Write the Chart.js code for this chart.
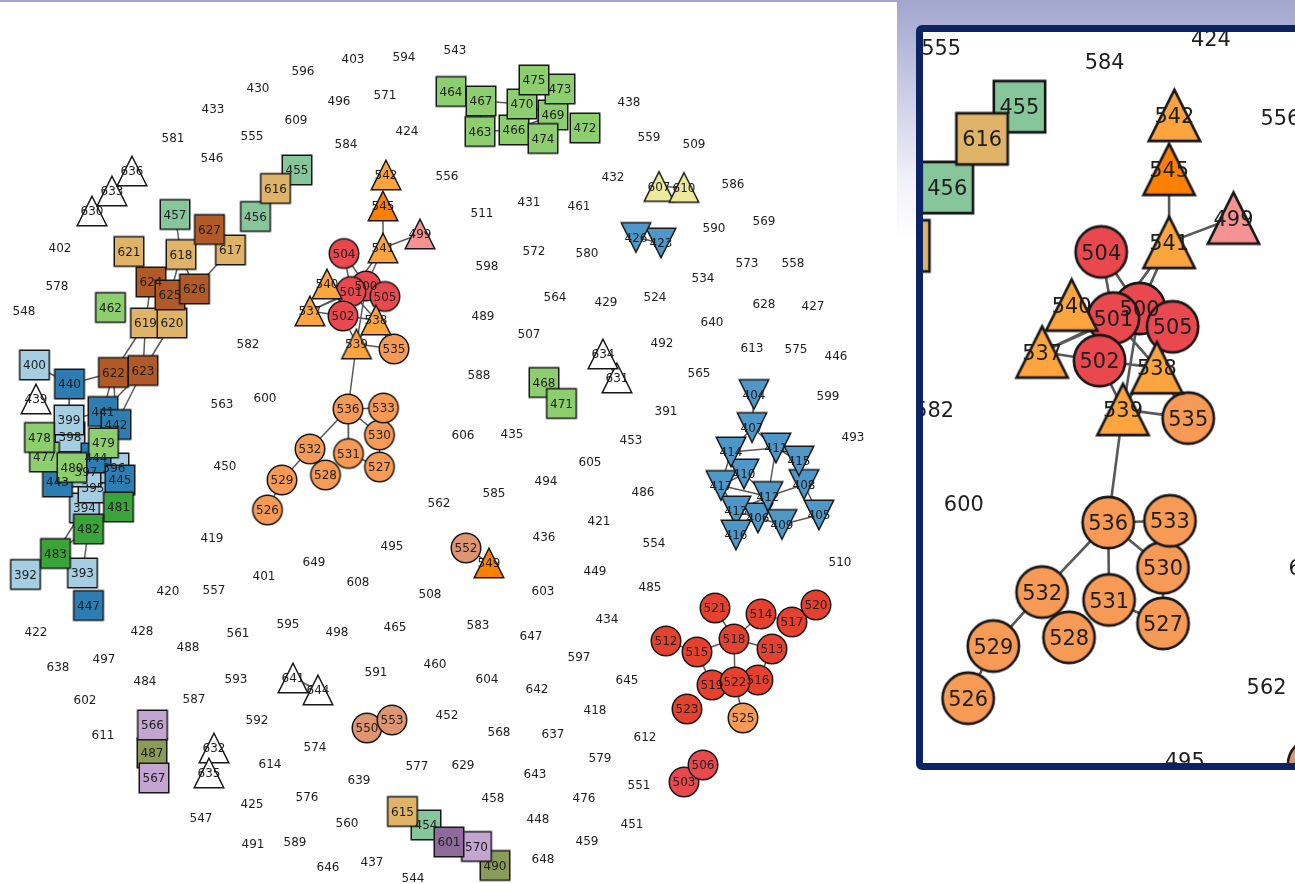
<!DOCTYPE html>
<html>
<head>
<meta charset="utf-8">
<title>Community graph</title>
<script src="https://cdn.jsdelivr.net/npm/chart.js@4.4.1/dist/chart.umd.min.js"></script>
<style>
  html, body { margin: 0; padding: 0; width: 1295px; height: 884px; overflow: hidden; }
  body {
    position: relative;
    background: linear-gradient(to bottom, #a2a5cd 0px, #b3b5d8 40px, #d3d4e9 110px, #f1f1f8 180px, #ffffff 240px);
    font-family: "DejaVu Sans", sans-serif;
  }
  #sheet { position: absolute; left: 0; top: 2px; width: 897px; height: 882px; background: #fff; }
  #overview { position: absolute; left: 0; top: 0; }
  #frame {
    position: absolute; left: 916px; top: 25px; width: 420px; height: 731px;
    border: 7px solid #0b2363; border-radius: 6px; background: #fff; overflow: hidden;
  }
  #detail { position: absolute; left: 0; top: 0; }
</style>
</head>
<body>
<div id="sheet"></div>
<canvas id="overview" width="897" height="884" style="width:897px;height:884px"></canvas>
<div id="frame"><canvas id="detail" width="400" height="731" style="width:400px;height:731px"></canvas></div>
<script>
// ---- node layout: [id, x, y] grouped by community ----
const unlinked = [
  [430,258,88],[433,213,109],[581,173,138],[555,252,136],[546,212,158],[596,303,71],[609,296,120],
  [403,353,59],[594,404,57],[543,455,50],[496,339,101],[571,385,95],[424,407,131],[584,346,144],
  [556,447,176],[511,482,213],[431,529,202],[461,579,206],[572,534,251],[580,587,253],[598,487,266],
  [564,555,297],[438,629,102],[559,649,137],[509,694,144],[432,613,177],[586,733,184],[590,714,228],
  [569,764,221],[573,747,263],[558,793,263],[534,703,278],[524,655,297],[429,606,302],[628,764,304],
  [427,813,306],[402,60,248],[578,57,286],[548,24,311],[582,248,344],[563,222,404],[600,265,398],
  [450,225,466],[419,212,538],[401,264,576],[420,168,591],[557,214,590],[489,483,316],[507,529,334],
  [588,479,375],[606,463,435],[435,512,434],[605,590,462],[494,546,481],[585,494,493],[562,439,503],
  [495,392,546],[436,544,537],[649,314,562],[608,358,582],[508,430,594],[603,543,591],[421,599,521],
  [449,595,571],[640,712,322],[492,662,343],[613,752,348],[575,796,349],[446,836,356],[565,699,373],
  [599,828,396],[391,666,411],[493,853,437],[453,631,440],[486,643,492],[554,654,543],[510,840,562],
  [485,650,587],[422,36,632],[428,142,631],[561,238,633],[595,288,624],[488,188,647],[638,58,667],
  [497,104,659],[484,145,681],[593,236,679],[602,85,700],[587,194,699],[592,257,720],[611,103,735],
  [614,270,764],[425,252,804],[547,201,818],[491,253,844],[589,295,842],[574,315,747],[576,307,797],
  [498,337,632],[465,395,627],[583,478,625],[647,531,636],[597,579,657],[434,607,619],[591,376,672],
  [460,435,664],[604,487,679],[642,537,689],[452,447,715],[568,499,732],[637,553,734],[418,595,710],
  [577,417,766],[629,463,765],[643,535,774],[579,600,758],[639,359,780],[458,493,798],[476,584,798],
  [560,347,823],[448,538,819],[459,587,841],[648,543,859],[646,328,867],[437,372,862],[544,413,878],
  [645,627,680],[612,645,737],[551,639,785],[451,632,824]
];
const whiteTri = [[636,132,171],[633,112,191],[630,92,211],[439,36,399],[634,603,354],[631,617,378],
  [641,293,678],[644,318,690],[632,214,748],[635,209,773]];
const amberTri = [[537,310,311],[538,376,320],[539,356.5,344],[540,327,284],[541,383,248],[542,386,175]];
const orangeTri = [[545,383,206],[549,489,563]];
const pinkTri = [[499,420,234]];
const yellowTri = [[607,659,186.5],[610,684,187.5]];
const blueDownTri = [[426,636,237.5],[423,661,243],[404,754,394.5],[407,752,427.5],[414,731,452],
  [411,776,448],[415,799,461],[410,744,474],[417,721,485.5],[408,804,484.5],[412,768,496.5],
  [413,736,511],[406,758,518],[409,782,524.5],[405,819,515],[416,736,535]];
const roseCircle = [[500,366,286],[501,351,291.5],[502,343,316],[504,344,253.5],[505,385,296.5],
  [503,684,782],[506,703,765]];
const redCircle = [[512,666,641],[513,772,649],[514,761,614],[515,697,652],[516,758,680],[517,792,622],
  [518,734,639],[519,712,685],[520,816,605],[521,715,608],[522,735,682],[523,687,709]];
const orangeCircle = [[526,267.5,510],[527,379.5,467],[528,325.5,475],[529,282,480],[530,379.5,435],
  [531,348.5,453.5],[532,310,449],[533,383.5,408],[535,394,349],[536,348,409],[525,743,718]];
const salmonCircle = [[552,466,548],[550,367,728],[553,392,720]];
const leafSquare = [[462,110.5,307.5],[463,480,131.5],[464,451,91.5],[466,514,130],[467,481,101],
  [469,553,115],[470,522,104],[472,585,128],[473,560,89],[474,543,138.5],[475,534,80],
  [468,544,382.5],[471,561.5,403.5],[477,44.5,457],[478,39.5,437.5],[479,103.5,443],[480,72,467.5]];
const greenSquare = [[481,118.5,507],[482,88.5,529],[483,55.5,553.5]];
const skySquare = [[392,25.5,574.5],[393,82.5,573],[394,84.5,508],[395,93,488],[396,114,468],
  [397,86,472],[398,70,437],[399,69,420],[400,34.5,365]];
const blueSquare = [[440,69.5,384],[441,103,411.5],[442,116,424.5],[443,57.5,482],[444,96,458],
  [445,120,480],[447,88.5,605.5]];
const mintSquare = [[454,426,825],[455,297,170],[456,255.5,216.5],[457,175,214.5]];
const tanSquare = [[615,402.5,811.5],[616,275.5,188.5],[617,230.5,250],[618,181,254.5],
  [619,145.5,323],[620,172,323],[621,129,251.5]];
const rustSquare = [[622,113.5,372.5],[623,143,370.5],[624,151,282],[625,170,295],[626,194.5,289],
  [627,209.5,229.5]];
const lilacSquare = [[566,152.5,725],[567,154,778],[570,476.5,846.5]];
const oliveSquare = [[487,152,753],[490,495,865.5]];
const plumSquare = [[601,449,842]];

// ---- links between nodes ----
const links = [
  [457,618],[618,624],[618,625],[618,626],[617,626],[627,617],[624,619],[626,620],
  [619,622],[619,623],[620,623],[622,440],[440,400],[622,441],[622,442],[623,441],[623,442],
  [440,399],[399,441],[441,444],[483,394],[483,482],[393,482],[394,482],[396,445],[443,397],
  [541,545],[541,499],[541,500],[541,501],[504,501],[504,500],[540,501],[540,505],[537,501],
  [537,502],[537,500],[502,538],[501,538],[500,539],[502,539],[505,538],[505,539],[539,535],
  [538,535],[539,536],[536,533],[536,532],[536,531],[536,530],[532,529],[529,526],[530,527],
  [531,527],[533,530],
  [467,470],[463,466],[466,469],[470,469],[475,473],[469,474],[470,475],[464,467],[463,467],
  [607,610],[426,423],[634,631],[641,644],[632,635],[630,633],[633,636],[468,471],
  [550,553],[552,549],[503,506],
  [404,407],[407,414],[407,411],[414,411],[411,415],[415,408],[414,417],[414,410],[410,417],
  [410,412],[417,412],[417,413],[413,412],[412,408],[412,406],[413,406],[406,409],[409,405],
  [408,405],[411,412],[413,416],
  [521,518],[514,518],[515,518],[518,513],[518,522],[515,519],[519,522],[522,516],[522,525],
  [512,515],[514,517],[517,520],[516,513],
  [566,487],[487,567],[615,454],[454,601],[601,570],[570,490]
];

// ---- appearance of each community ----
const communities = [
  { nodes: whiteTri,     shape: 'up',     fill: '#ffffff' },
  { nodes: amberTri,     shape: 'up',     fill: '#fca53e' },
  { nodes: orangeTri,    shape: 'up',     fill: '#ff7f00' },
  { nodes: pinkTri,      shape: 'up',     fill: '#f69292' },
  { nodes: yellowTri,    shape: 'up',     fill: '#eeea9b' },
  { nodes: blueDownTri,  shape: 'down',   fill: '#4d97c9' },
  { nodes: roseCircle,   shape: 'circle', fill: '#e8484e' },
  { nodes: redCircle,    shape: 'circle', fill: '#e6402f' },
  { nodes: orangeCircle, shape: 'circle', fill: '#f79a55' },
  { nodes: salmonCircle, shape: 'circle', fill: '#de9571' },
  { nodes: leafSquare,   shape: 'square', fill: '#8dcf6f' },
  { nodes: greenSquare,  shape: 'square', fill: '#38a43a' },
  { nodes: skySquare,    shape: 'square', fill: '#a6cee3' },
  { nodes: blueSquare,   shape: 'square', fill: '#2c7db2' },
  { nodes: mintSquare,   shape: 'square', fill: '#87c59b' },
  { nodes: tanSquare,    shape: 'square', fill: '#dfb468' },
  { nodes: rustSquare,   shape: 'square', fill: '#b25a27' },
  { nodes: lilacSquare,  shape: 'square', fill: '#c2a5d0' },
  { nodes: oliveSquare,  shape: 'square', fill: '#8a9c5a' },
  { nodes: plumSquare,   shape: 'square', fill: '#8e6b9b' }
];

const MARKER = 31;      // marker outer size in px at scale 1
const FONT = 12;        // label size in px at scale 1

const position = new Map();
unlinked.forEach(([id, x, y]) => position.set(id, { x, y }));
communities.forEach(c => c.nodes.forEach(([id, x, y]) => position.set(id, { x, y })));

function markerImage(shape, fill, k) {
  const size = MARKER * k, lw = 1.5 * k, pad = 2.5 * k;
  const dim = Math.ceil(size + 2 * pad);
  const c = document.createElement('canvas');
  c.width = dim; c.height = dim;
  const g = c.getContext('2d');
  const m = dim / 2, h = (size - lw) / 2;
  g.lineWidth = lw; g.strokeStyle = '#161616'; g.fillStyle = fill; g.lineJoin = 'miter';
  g.beginPath();
  if (shape === 'circle') g.arc(m, m, h, 0, Math.PI * 2);
  else if (shape === 'square') g.rect(m - h, m - h, 2 * h, 2 * h);
  else if (shape === 'up') { g.moveTo(m, m - h); g.lineTo(m + h, m + h); g.lineTo(m - h, m + h); g.closePath(); }
  else { g.moveTo(m, m + h); g.lineTo(m + h, m - h); g.lineTo(m - h, m - h); g.closePath(); }
  g.fill(); g.stroke();
  return c;
}

// node ids are written on top of every marker once all datasets are drawn
const nodeLabels = {
  id: 'nodeLabels',
  afterDatasetsDraw(chart, args, opts) {
    const { ctx, chartArea, scales } = chart;
    const px = FONT * opts.scale;
    ctx.save();
    ctx.beginPath();
    ctx.rect(chartArea.left, chartArea.top, chartArea.right - chartArea.left, chartArea.bottom - chartArea.top);
    ctx.clip();
    ctx.font = px + 'px "DejaVu Sans"';
    ctx.fillStyle = '#1d1d1d';
    ctx.textAlign = 'center';
    ctx.textBaseline = 'alphabetic';
    chart.data.datasets.forEach(ds => {
      if (!ds.nodeIds) return;
      ds.data.forEach((p, i) => {
        const x = scales.x.getPixelForValue(p.x);
        const y = scales.y.getPixelForValue(p.y);
        ctx.fillText(String(ds.nodeIds[i]), x, y + 0.3645 * px);
      });
    });
    ctx.restore();
  }
};

function buildGraph(canvasId, view, k) {
  const edgePoints = [];
  links.forEach(([a, b]) => {
    const p = position.get(a), q = position.get(b);
    if (!p || !q) return;
    edgePoints.push({ x: p.x, y: p.y }, { x: q.x, y: q.y }, { x: null, y: null });
  });

  const datasets = [{
    type: 'line', data: edgePoints, borderColor: 'rgba(60,60,60,0.85)', borderWidth: 1.5 * k,
    pointRadius: 0, spanGaps: false, tension: 0, order: 10000
  }, {
    data: unlinked.map(([id, x, y]) => ({ x, y })), nodeIds: unlinked.map(n => n[0]),
    pointRadius: 0, order: 9000
  }];

  const marked = [];
  communities.forEach(c => {
    const img = markerImage(c.shape, c.fill, k);
    c.nodes.forEach(([id, x, y]) => marked.push({ id, x, y, img }));
  });
  marked.sort((a, b) => a.id - b.id);
  marked.forEach((n, rank) => {
    datasets.push({
      data: [{ x: n.x, y: n.y }], nodeIds: [n.id], pointStyle: n.img,
      pointRadius: MARKER * k * 0.6, order: 5000 - rank
    });
  });

  return new Chart(document.getElementById(canvasId), {
    type: 'scatter',
    data: { datasets },
    options: {
      responsive: false, animation: false, events: [],
      layout: { padding: 0, autoPadding: false },
      plugins: { legend: { display: false }, tooltip: { enabled: false }, nodeLabels: { scale: k } },
      scales: {
        x: { type: 'linear', display: false, min: view.x0, max: view.x1 },
        y: { type: 'linear', display: false, reverse: true, min: view.y0, max: view.y1 }
      }
    },
    plugins: [nodeLabels]
  });
}

// whole network
buildGraph('overview', { x0: 0, x1: 897, y0: 0, y1: 884 }, 1);

// magnified window around the central orange/red community
const zoomK = 1.74;
const zx0 = 241.56, zy0 = 127.1;
buildGraph('detail', { x0: zx0, x1: zx0 + 400 / zoomK, y0: zy0, y1: zy0 + 731 / zoomK }, zoomK);
</script>
</body>
</html>
